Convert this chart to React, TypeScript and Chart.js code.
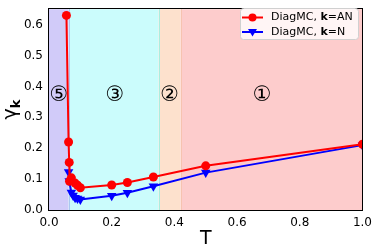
import React, { useEffect, useRef } from "react";
import { Chart, registerables } from "chart.js";
Chart.register(...registerables);

const tAN = [0.0556, 0.0625, 0.0645, 0.0655, 0.0714, 0.0833, 0.0909, 0.1, 0.2, 0.25, 0.333, 0.5, 1.0];
const gammaAN = [0.63, 0.22, 0.154, 0.093, 0.104, 0.087, 0.08, 0.072, 0.081, 0.089, 0.107, 0.143, 0.213];
const tN = [0.0625, 0.0645, 0.0714, 0.0769, 0.0833, 0.0909, 0.1, 0.2, 0.25, 0.333, 0.5, 1.0];
const gammaN = [0.123, 0.094, 0.057, 0.047, 0.04, 0.037, 0.034, 0.046, 0.056, 0.077, 0.121, 0.21];
const xTicks = [0, 0.2, 0.4, 0.6, 0.8, 1.0];
const yTicks = [0, 0.1, 0.2, 0.3, 0.4, 0.5, 0.6];
const regionBounds = [0, 0.063, 0.35, 0.42, 1.0];
const regionColors = ["#d1cbf9", "#cbfcfc", "#fde1cd", "#fdcccc"];
const regionEdges = ["#a9c8f0", "#a8eee0", "#f6c3b0", "#fdcccc"];
const regionLabels = ["⑤", "③", "②", "①"];
const regionLabelX = [0.032, 0.21, 0.385, 0.68];
const regionLabelY = 0.37;
const seriesNames = ["AN", "N"];

const FONT = "'DejaVu Sans', sans-serif";

const decorPlugin = {
  id: "decor",
  beforeDatasetsDraw(chart: any) {
    const { ctx, chartArea: a, scales } = chart;
    const xs = scales.x;
    ctx.save();
    for (let i = 0; i < regionColors.length; i++) {
      const x0 = xs.getPixelForValue(regionBounds[i]);
      const x1 = xs.getPixelForValue(regionBounds[i + 1]);
      ctx.fillStyle = regionColors[i];
      ctx.fillRect(x0, a.top, x1 - x0, a.bottom - a.top);
    }
    for (let i = 1; i < regionBounds.length - 1; i++) {
      const x = Math.round(xs.getPixelForValue(regionBounds[i])) + 0.5;
      ctx.strokeStyle = regionEdges[i - 1];
      ctx.lineWidth = 1;
      ctx.beginPath();
      ctx.moveTo(x, a.top);
      ctx.lineTo(x, a.bottom);
      ctx.stroke();
    }
    ctx.fillStyle = "#000";
    ctx.font = `21px ${FONT}`;
    ctx.textAlign = "center";
    ctx.textBaseline = "middle";
    for (let i = 0; i < regionLabels.length; i++) {
      ctx.fillText(regionLabels[i], xs.getPixelForValue(regionLabelX[i]), scales.y.getPixelForValue(regionLabelY));
    }
    ctx.restore();
  },
  afterDraw(chart: any) {
    const { ctx, chartArea: a } = chart;
    ctx.save();
    ctx.strokeStyle = "#000";
    ctx.lineWidth = 1;
    ctx.strokeRect(Math.round(a.left) - 0.5, Math.round(a.top) - 0.5, Math.round(a.right - a.left) + 1, Math.round(a.bottom - a.top) + 1);
    // axis titles
    ctx.fillStyle = "#000";
    ctx.textAlign = "center";
    ctx.textBaseline = "alphabetic";
    ctx.font = `19px ${FONT}`;
    ctx.fillText("T", (a.left + a.right) / 2, 244);
    ctx.save();
    ctx.translate(16, (a.top + a.bottom) / 2);
    ctx.rotate(-Math.PI / 2);
    ctx.font = `19px ${FONT}`;
    ctx.textAlign = "left";
    const gw = ctx.measureText("γ").width;
    ctx.font = `bold 13px ${FONT}`;
    const kw = ctx.measureText("k").width;
    const start = -(gw + kw) / 2;
    ctx.font = `19px ${FONT}`;
    ctx.fillText("γ", start, 0);
    ctx.font = `bold 13px ${FONT}`;
    ctx.fillText("k", start + gw, 4);
    ctx.restore();
    // legend
    const lx = 240, ly = 8, lw = 118, lh = 31;
    ctx.fillStyle = "rgba(255,255,255,0.8)";
    ctx.strokeStyle = "#d0d0d0";
    ctx.beginPath();
    (ctx as any).roundRect(lx + 0.5, ly + 0.5, lw, lh, 3);
    ctx.fill();
    ctx.stroke();
    const rows = [
      { color: "#ff0000", name: seriesNames[0], marker: "circle" },
      { color: "#0000ff", name: seriesNames[1], marker: "tri" },
    ];
    rows.forEach((r, i) => {
      const y = ly + 9.5 + i * 14.5;
      ctx.strokeStyle = r.color;
      ctx.lineWidth = 2;
      ctx.beginPath();
      ctx.moveTo(lx + 2, y);
      ctx.lineTo(lx + 23, y);
      ctx.stroke();
      ctx.fillStyle = r.color;
      ctx.beginPath();
      if (r.marker === "circle") {
        ctx.arc(lx + 12.5, y, 4, 0, Math.PI * 2);
      } else {
        ctx.moveTo(lx + 8, y - 3);
        ctx.lineTo(lx + 17, y - 3);
        ctx.lineTo(lx + 12.5, y + 4.5);
        ctx.closePath();
      }
      ctx.fill();
      ctx.fillStyle = "#000";
      ctx.textAlign = "left";
      ctx.textBaseline = "middle";
      let x = lx + 31;
      ctx.font = `11px ${FONT}`;
      ctx.fillText("DiagMC, ", x, y);
      x += ctx.measureText("DiagMC, ").width;
      ctx.font = `bold 11px ${FONT}`;
      ctx.fillText("k", x, y);
      x += ctx.measureText("k").width;
      ctx.font = `11px ${FONT}`;
      ctx.fillText("=" + r.name, x, y);
    });
    ctx.restore();
  },
};

export default function App() {
  const ref = useRef<HTMLCanvasElement>(null);
  useEffect(() => {
    const chart = new Chart(ref.current!, {
      type: "scatter",
      data: {
        datasets: [
          {
            label: "DiagMC, k=AN",
            data: tAN.map((t, i) => ({ x: t, y: gammaAN[i] })),
            showLine: true,
            borderColor: "#ff0000",
            backgroundColor: "#ff0000",
            borderWidth: 2,
            pointRadius: 4.5,
            pointStyle: "circle",
            pointBorderWidth: 0,
          },
          {
            label: "DiagMC, k=N",
            data: tN.map((t, i) => ({ x: t, y: gammaN[i] })),
            showLine: true,
            borderColor: "#0000ff",
            backgroundColor: "#0000ff",
            borderWidth: 2,
            pointRadius: 5.5,
            pointStyle: "triangle",
            rotation: 180,
            pointBorderWidth: 0,
          },
        ],
      },
      options: {
        animation: false,
        responsive: false,
        layout: { padding: { top: 3, right: 9, left: 0, bottom: 0 } },
        plugins: { legend: { display: false }, tooltip: { enabled: false } },
        scales: {
          x: {
            type: "linear",
            min: 0,
            max: 1,
            afterBuildTicks: (s: any) => { s.ticks = xTicks.map((v) => ({ value: v })); },
            afterFit: (s: any) => { s.height = 39; },
            grid: { display: false, drawTicks: true, tickLength: 4, tickColor: "#000" },
            border: { display: false },
            ticks: { color: "#000", font: { family: "DejaVu Sans", size: 12 }, padding: 2, maxRotation: 0, callback: (v: any) => Number(v).toFixed(1) },
          },
          y: {
            type: "linear",
            min: 0,
            max: 0.65,
            afterBuildTicks: (s: any) => { s.ticks = yTicks.map((v) => ({ value: v })); },
            afterFit: (s: any) => { s.width = 49; },
            grid: { display: false, drawTicks: true, tickLength: 4, tickColor: "#000" },
            border: { display: false },
            ticks: { color: "#000", font: { family: "DejaVu Sans", size: 12 }, padding: 2, callback: (v: any) => Number(v).toFixed(1) },
          },
        },
      },
      plugins: [decorPlugin],
    });
    return () => chart.destroy();
  }, []);
  return (
    <div style={{ position: "fixed", left: 0, top: 0, width: 374, height: 249, background: "#fff" }}>
      <canvas ref={ref} width={374} height={249} style={{ width: 374, height: 249 }} />
    </div>
  );
}
